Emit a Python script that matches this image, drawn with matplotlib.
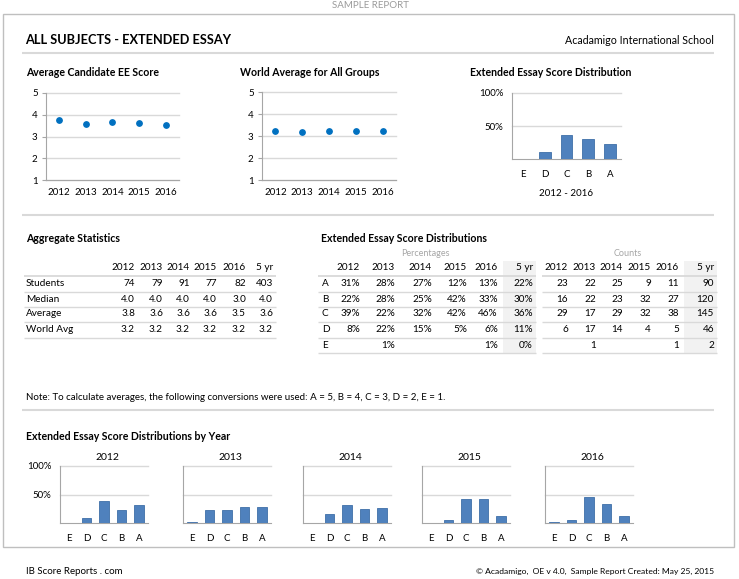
import numpy as np
import matplotlib
matplotlib.use('Agg')
import matplotlib.pyplot as plt
from matplotlib.patches import Rectangle

plt.rcParams['font.family'] = ['Lato', 'DejaVu Sans']

W, H = 739, 579

YEARS = ['2012', '2013', '2014', '2015', '2016']
GRADES = ['E', 'D', 'C', 'B', 'A']

avg_candidate = [3.76, 3.59, 3.65, 3.60, 3.51]
world_avg = [3.21, 3.18, 3.25, 3.25, 3.25]

agg_cols = ['2012', '2013', '2014', '2015', '2016', '5 yr']
agg_rows = ['Students', 'Median', 'Average', 'World Avg']
agg_vals = [
    ['74', '79', '91', '77', '82', '403'],
    ['4.0', '4.0', '4.0', '4.0', '3.0', '4.0'],
    ['3.8', '3.6', '3.6', '3.6', '3.5', '3.6'],
    ['3.2', '3.2', '3.2', '3.2', '3.2', '3.2'],
]

dist_rows = ['A', 'B', 'C', 'D', 'E']
# percentages per grade: 2012..2016, 5 yr (None = blank cell)
pct = {
    'A': [31, 28, 27, 12, 13, 22],
    'B': [22, 28, 25, 42, 33, 30],
    'C': [39, 22, 32, 42, 46, 36],
    'D': [8, 22, 15, 5, 6, 11],
    'E': [None, 1, None, None, 1, 0],
}
counts = {
    'A': [23, 22, 25, 9, 11, 90],
    'B': [16, 22, 23, 32, 27, 120],
    'C': [29, 17, 29, 32, 38, 145],
    'D': [6, 17, 14, 4, 5, 46],
    'E': [None, 1, None, None, 1, 2],
}

BLUE_BAR = '#4F81BD'
BAR_EDGE = '#3F6FA8'
DOT = '#0070C0'
GRID = '#D9D9D9'
SPINE = '#A6A6A6'
SEP = '#D9D9D9'

fig = plt.figure(figsize=(W / 100, H / 100), dpi=100)

# overlay in pixel coords for text / lines / tables
ov = fig.add_axes([0, 0, 1, 1])
ov.set_xlim(0, W)
ov.set_ylim(H, 0)
ov.axis('off')


def txt(x, y, s, **kw):
    kw.setdefault('va', 'center')
    kw.setdefault('fontsize', 7)
    ov.text(x, y, s, **kw)


def hline(y, x0, x1, color=SEP, lw=1.2):
    ov.plot([x0, x1], [y, y], color=color, lw=lw, solid_capstyle='butt')


def ax_px(x0, y0, x1, y1):
    a = fig.add_axes([x0 / W, 1 - y1 / H, (x1 - x0) / W, (y1 - y0) / H])
    a.set_facecolor('none')
    return a


# frame and header
ov.add_patch(Rectangle((3, 14), 731, 533, fill=False, ec='#BFBFBF', lw=1))
txt(370, 6, 'SAMPLE REPORT', ha='center', color='#9A9A9A', fontsize=7)
txt(25, 40, 'ALL SUBJECTS - EXTENDED ESSAY', fontsize=9.2, fontweight='bold')
txt(714, 40, 'Acadamigo International School', ha='right', fontsize=7.7)
hline(53, 22, 714, lw=1.5)
hline(215, 22, 714, lw=1.5)
hline(410, 22, 714, lw=1.5)


def style_axes(a):
    for s in ['top', 'right']:
        a.spines[s].set_visible(False)
    a.spines['left'].set_color(SPINE)
    a.spines['bottom'].set_color(SPINE)
    a.set_axisbelow(True)


def score_chart(box, title, tx, vals):
    txt(tx, 72, title, fontsize=7.6, fontweight='bold')
    a = ax_px(*box)
    style_axes(a)
    a.scatter(range(len(YEARS)), vals, s=15, color=DOT, zorder=3, clip_on=False)
    a.set_xlim(-0.5, 4.5)
    a.set_ylim(1, 5)
    a.set_yticks([1, 2, 3, 4, 5])
    a.set_xticks(range(len(YEARS)))
    a.set_xticklabels(YEARS)
    a.yaxis.grid(True, color=GRID, lw=1)
    for gl in a.get_ygridlines():
        gl.set_clip_on(False)
    a.tick_params(axis='y', length=3, color=SPINE, labelsize=7, pad=3)
    a.tick_params(axis='x', length=0, labelsize=7, pad=6)


score_chart((46, 93, 179, 180), 'Average Candidate EE Score', 26, avg_candidate)
score_chart((262, 92, 396, 180), 'World Average for All Groups', 240, world_avg)


def dist_chart(box, heights, ylabels=True, title=None, title_y=None):
    a = ax_px(*box)
    style_axes(a)
    a.bar(range(len(GRADES)), heights, width=0.55, color=BLUE_BAR,
          edgecolor=BAR_EDGE, lw=0.6, zorder=3)
    a.set_xlim(-0.5, 4.5)
    a.set_ylim(0, 100)
    a.set_yticks([50, 100])
    a.yaxis.grid(True, color=GRID, lw=1)
    for gl in a.get_ygridlines():
        gl.set_clip_on(False)
    a.set_xticks(range(len(GRADES)))
    a.set_xticklabels(GRADES)
    a.tick_params(axis='x', length=0, labelsize=7, pad=8)
    a.tick_params(axis='y', length=0, labelsize=7, pad=6)
    if ylabels:
        a.set_yticklabels(['50%', '100%'])
    else:
        a.set_yticklabels([])
    if title:
        x0, y0, x1, y1 = box
        txt((x0 + x1) / 2 + 3, title_y, title, ha='center', fontsize=7.5)
    return a


def grade_heights(col):
    return [pct[g][col] or 0 for g in GRADES]


# overall distribution
txt(470, 72, 'Extended Essay Score Distribution', fontsize=7.6, fontweight='bold')
dist_chart((512, 93, 621, 159), grade_heights(5))
txt(566, 193, '2012 - 2016', ha='center', fontsize=7)

# aggregate statistics table
txt(26, 239, 'Aggregate Statistics', fontsize=7.6, fontweight='bold')
agg_x = [135, 163, 190, 217, 246, 273]
row_y = [284, 299, 314, 330]
for c, xr in zip(agg_cols, agg_x):
    txt(xr, 268, c, ha='right', fontsize=7.2)
for r, (name, vals) in enumerate(zip(agg_rows, agg_vals)):
    txt(26, row_y[r], name, fontsize=7.2)
    for v, xr in zip(vals, agg_x):
        txt(xr, row_y[r], v, ha='right', fontsize=7.2)
for yl in [276, 291.5, 307, 322, 337.5]:
    hline(yl, 24, 276, lw=1.3 if yl == 276 else 1)

# percentage / count tables
txt(321, 239, 'Extended Essay Score Distributions', fontsize=7.6, fontweight='bold')
txt(425, 254, 'Percentages', ha='center', color='#A6A6A6', fontsize=6.5)
txt(628, 254, 'Counts', ha='center', color='#A6A6A6', fontsize=6.5)
pct_x = [360, 395, 432, 467, 498, 533]
cnt_x = [568, 596, 623, 651, 679, 714]
drow_y = [284, 299, 314, 330, 345]
ov.add_patch(Rectangle((503, 261), 33, 92, color='#F2F2F2', lw=0, zorder=0))
ov.add_patch(Rectangle((684, 261), 33, 92, color='#F2F2F2', lw=0, zorder=0))
for c, xp, xc in zip(agg_cols, pct_x, cnt_x):
    txt(xp, 268, c, ha='right', fontsize=7.2)
    txt(xc, 268, c, ha='right', fontsize=7.2)
for r, g in enumerate(dist_rows):
    txt(322, drow_y[r], g, fontsize=7.2)
    for v, xp in zip(pct[g], pct_x):
        if v is not None:
            txt(xp, drow_y[r], f'{v}%', ha='right', fontsize=7.2)
    for v, xc in zip(counts[g], cnt_x):
        if v is not None:
            txt(xc, drow_y[r], str(v), ha='right', fontsize=7.2)
for yl in [276, 291.5, 307, 322, 337.5, 353]:
    w = 1.3 if yl == 276 else 1
    hline(yl, 318, 536, lw=w)
    hline(yl, 542, 717, lw=w)

txt(26, 397, 'Note: To calculate averages, the following conversions were used: '
    'A = 5, B = 4, C = 3, D = 2, E = 1.', fontsize=7)

# per-year distributions
txt(26, 437, 'Extended Essay Score Distributions by Year', fontsize=7.6, fontweight='bold')
lefts = [60, 183, 303, 422, 545]
for i, (yr, xl) in enumerate(zip(YEARS, lefts)):
    dist_chart((xl, 466, xl + 88, 523), grade_heights(i), ylabels=(i == 0),
               title=yr, title_y=458)

# footer
txt(26, 571, 'IB Score Reports . com', fontsize=7)
txt(714, 571, '\u00a9 Acadamigo,  OE v 4.0,  Sample Report Created: May 25, 2015',
    ha='right', fontsize=6.1)

fig.savefig('out.png', dpi=100)
